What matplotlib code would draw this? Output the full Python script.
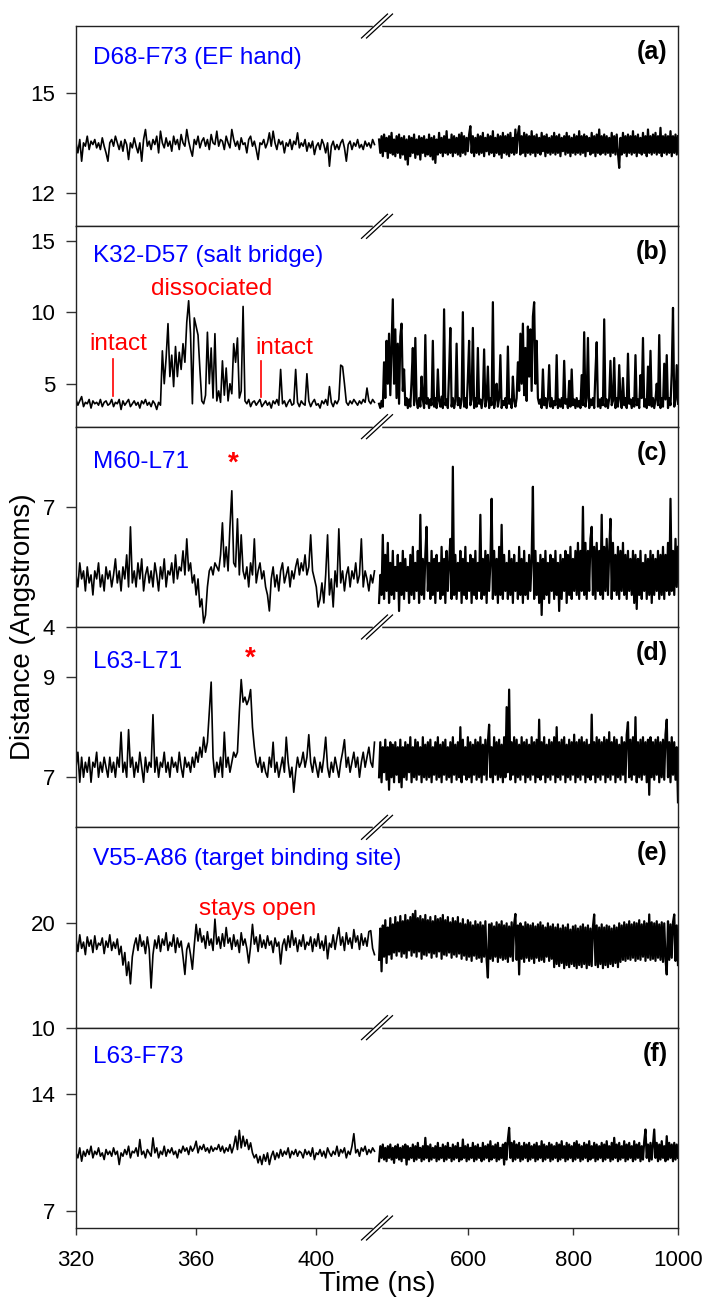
import numpy as np
import matplotlib
matplotlib.use("Agg")
import matplotlib.pyplot as plt
from matplotlib.lines import Line2D

plt.rcParams['font.family'] = ['Liberation Sans', 'DejaVu Sans']

# distances (Angstrom); left block 320-420 ns, right block 430-1000 ns
a_left = [13.5, 13.2, 13.6, 12.95, 13.5, 13.4, 13.7, 13.3, 13.55, 13.45, 13.6, 13.35, 13.5, 13.3, 13.65, 13.4, 13.2, 12.95, 13.5, 13.6,
          13.4, 13.7, 13.5, 13.3, 13.55, 13.25, 13.6, 13.45, 13.0, 13.5, 13.35, 13.65, 13.4, 13.2, 13.5, 12.95, 13.6, 13.9, 13.4, 13.55,
          13.3, 13.6, 13.45, 13.7, 13.2, 13.85, 13.5, 13.35, 13.65, 13.4, 13.55, 13.25, 13.7, 13.45, 13.6, 13.3, 13.75, 13.5, 13.4, 13.9,
          13.55, 13.3, 13.1, 13.6, 13.45, 13.7, 13.35, 13.55, 13.65, 13.4, 13.6, 13.3, 13.75, 13.5, 13.45, 13.85, 13.4, 13.6, 13.55, 13.3,
          13.7, 13.5, 13.35, 13.9, 13.6, 13.4, 13.55, 13.3, 13.65, 13.45, 13.5, 13.2, 13.6, 13.7, 13.4, 13.55, 13.3, 13.0, 13.5, 13.45,
          13.6, 13.35, 13.5, 13.8, 13.4, 13.85, 13.5, 13.3, 13.6, 13.45, 13.55, 13.2, 13.5, 13.4, 13.6, 13.3, 13.55, 13.45, 13.8, 13.35,
          13.5, 13.4, 13.6, 13.25, 13.5, 13.35, 13.55, 13.15, 13.4, 13.5, 13.3, 13.6, 13.45, 13.2, 13.5, 12.8, 13.4, 13.55, 13.3, 13.45,
          13.3, 13.5, 13.6, 13.35, 12.95, 13.45, 13.55, 13.3, 13.5, 13.4, 13.6, 13.35, 13.45, 13.3, 13.55, 13.4, 13.5, 13.35, 13.6, 13.45]
a_right = [13.6, 13.2, 13.7, 13.1, 13.75, 13.25, 13.65, 13.05, 13.7, 13.2, 13.8, 13.15, 13.6, 13.1, 13.7, 13.2, 13.75, 13.05, 13.65, 13.15,
           13.7, 13.0, 13.6, 12.85, 13.7, 13.1, 13.65, 13.2, 13.75, 13.05, 13.6, 13.15, 13.7, 13.0, 13.65, 13.2, 13.7, 13.1, 13.6, 13.15,
           13.75, 13.1, 13.65, 13.0, 13.7, 12.9, 13.6, 13.15, 13.8, 13.2, 13.65, 13.1, 13.7, 13.2, 13.85, 13.15, 13.6, 13.2, 13.75, 13.1,
           13.7, 13.2, 13.65, 13.15, 13.75, 13.1, 13.8, 13.2, 13.7, 13.15, 13.65, 13.25, 13.75, 14.0, 13.2, 13.7, 13.1, 13.65, 13.2, 13.75,
           13.15, 13.7, 13.2, 13.8, 13.1, 13.65, 13.25, 13.75, 13.15, 13.7, 13.2, 13.85, 13.1, 13.65, 13.2, 13.75, 13.15, 13.7, 13.05, 13.8,
           13.2, 13.7, 13.15, 13.75, 13.1, 13.8, 13.2, 13.65, 13.15, 13.9, 13.2, 13.75, 14.0, 13.15, 13.7, 13.2, 13.8, 13.1, 13.75, 13.2,
           13.7, 13.15, 13.85, 13.2, 13.7, 13.1, 13.75, 13.2, 13.65, 13.15, 13.8, 13.25, 13.7, 13.1, 13.75, 13.2, 13.65, 13.15, 13.7, 13.2,
           13.8, 13.15, 13.7, 13.2, 13.75, 13.1, 13.65, 13.25, 13.7, 13.15, 13.8, 13.2, 13.7, 13.1, 13.65, 13.2, 13.75, 13.15, 13.7, 13.2,
           13.85, 13.15, 13.7, 13.2, 13.75, 13.1, 13.7, 13.25, 13.65, 13.15, 13.8, 13.2, 13.7, 13.1, 13.75, 13.2, 13.9, 13.15, 13.7, 13.2,
           13.75, 13.15, 13.7, 13.2, 13.65, 13.1, 13.8, 13.2, 13.7, 13.15, 13.75, 13.2, 12.75, 13.65, 13.15, 13.8, 13.2, 13.7, 13.1, 13.75,
           13.2, 13.7, 13.15, 13.85, 13.2, 13.7, 13.1, 13.75, 13.2, 13.65, 13.15, 13.8, 13.2, 13.7, 13.1, 13.9, 13.2, 13.7, 13.15, 13.75,
           13.2, 13.8, 13.15, 13.7, 13.2, 13.95, 13.1, 13.7, 13.2, 13.75, 13.15, 13.7, 13.2, 13.85, 13.1, 13.7, 13.2, 13.75, 13.15, 13.7]

b_left = [3.9, 3.5, 3.8, 4.1, 3.4, 3.7, 3.6, 3.9, 3.3, 3.8, 3.6, 3.7, 3.5, 3.9, 3.4, 3.7, 3.8, 3.5, 3.6, 3.9,
          3.4, 3.7, 3.6, 3.9, 3.2, 3.8, 3.5, 3.7, 3.9, 3.4, 3.6, 3.8, 3.5, 3.7, 3.3, 3.8, 3.6, 3.9, 3.5, 3.7,
          3.4, 3.8, 3.6, 3.2, 3.7, 3.5,
          7.3, 5.0, 6.8, 9.2, 5.5, 7.0, 4.8, 7.6, 5.5, 7.2, 6.0, 7.8, 6.5, 9.3, 10.8, 8.5, 3.6, 9.6, 9.0, 8.4,
          6.0, 3.8, 3.6, 4.2, 8.6, 5.0, 7.5, 4.0, 8.5, 3.8, 4.5, 3.7, 6.6, 4.2, 6.1, 3.8, 5.0, 4.3, 7.8, 6.5,
          8.2, 4.0, 4.5, 10.4, 3.8,
          3.6, 3.9, 3.4, 3.7, 3.8, 3.5, 3.7, 3.9, 3.4, 3.6, 3.8, 3.5, 3.7, 3.3, 3.8, 3.6, 3.9, 3.5, 6.0, 3.6,
          3.8, 3.4, 3.7, 3.9, 3.5, 3.6, 6.0, 3.7, 3.4, 3.8, 3.6, 3.5, 5.7, 3.8, 3.4, 3.7, 3.9, 3.5, 3.6, 3.3,
          3.8, 3.6, 3.9, 3.5, 4.8, 3.7, 3.4, 3.8, 3.6, 3.9, 6.3, 6.2, 5.0, 3.7, 3.5, 3.8, 3.6, 3.9, 3.7, 3.5,
          3.8, 3.6, 3.9, 3.7, 4.7, 3.8, 3.6, 3.9, 3.7]
b_right = [3.6, 3.3, 3.8, 3.4, 6.5, 4.0, 8.0, 5.0, 8.5, 4.2, 7.5, 10.9, 5.0, 8.8, 4.0, 7.8, 3.6, 8.3, 9.2, 4.5,
           6.0, 3.5, 4.0, 3.3, 3.9, 3.4, 5.2, 7.5, 3.5, 8.2, 3.8, 3.3, 4.0, 3.4, 5.5, 3.9, 3.3, 8.4, 3.6, 4.0,
           3.3, 3.9, 3.5, 8.0, 3.4, 4.0, 3.3, 6.0, 3.8, 3.4, 4.1, 3.3, 10.2, 3.5, 3.9, 3.3, 5.8, 8.9, 3.4, 4.0,
           3.3, 3.8, 7.8, 3.5, 4.0, 3.3, 3.9, 10.0, 3.4, 4.0, 3.3, 5.4, 8.0, 3.5, 3.9, 8.9, 3.3, 4.0, 3.4, 7.5,
           3.6, 3.9, 3.3, 4.0, 7.4, 3.4, 3.9, 6.2, 3.3, 4.0, 3.5, 10.7, 3.3, 3.9, 5.0, 3.4, 4.0, 7.0, 3.3, 3.8,
           3.5, 4.0, 3.3, 7.6, 3.6, 3.9, 3.3, 5.5, 3.8, 3.4, 4.0, 6.5, 4.5, 8.5, 5.0, 9.2, 4.2, 7.5, 3.8, 9.0,
           5.5, 8.8, 4.5, 9.7, 10.7, 5.0, 8.0, 4.0, 3.6, 3.9, 3.3, 6.0, 3.5, 4.0, 3.3, 3.9, 6.3, 3.4, 4.0, 3.3,
           3.8, 3.5, 7.0, 3.3, 3.9, 3.4, 4.0, 3.3, 6.6, 3.6, 3.9, 3.3, 5.2, 3.4, 6.0, 3.5, 3.9, 3.3, 4.0, 3.4,
           3.8, 3.3, 5.6, 3.5, 8.6, 3.4, 4.0, 8.2, 3.3, 3.9, 3.5, 4.0, 3.3, 5.8, 7.9, 3.4, 3.9, 3.3, 4.0, 3.5,
           9.5, 3.4, 3.9, 3.3, 4.0, 6.6, 3.5, 3.8, 6.8, 3.3, 4.0, 3.4, 6.3, 3.9, 3.3, 5.4, 3.5, 4.0, 3.3, 7.1,
           3.6, 3.9, 3.3, 4.0, 3.4, 7.0, 3.5, 3.9, 3.3, 5.6, 4.0, 8.2, 3.4, 3.9, 3.3, 6.2, 3.5, 7.3, 3.4, 4.0,
           3.3, 3.9, 5.0, 3.5, 8.4, 3.3, 4.0, 3.4, 6.4, 3.9, 7.0, 3.3, 4.0, 3.5, 5.8, 10.3, 3.4, 3.9, 6.3, 3.6]

c_left = [5.3, 5.0, 5.6, 5.2, 5.4, 4.9, 5.5, 5.1, 5.3, 4.8, 5.4, 5.2, 5.6, 5.0, 5.3, 4.9, 5.5, 5.2, 5.4, 5.0,
          5.3, 5.7, 5.1, 5.4, 4.9, 5.5, 5.2, 5.8, 5.0, 6.5, 5.1, 5.4, 5.0, 5.6, 5.2, 5.7, 4.9, 5.3, 5.5, 5.1,
          5.4, 5.0, 5.6, 5.3, 4.9, 5.5, 5.2, 5.7, 5.0, 5.4, 5.3, 5.6, 5.1, 5.8, 5.2, 5.5, 5.4, 5.9, 5.3, 6.2,
          5.4, 5.6, 5.1, 5.3, 4.8, 5.2, 4.5, 4.7, 4.1, 4.3, 5.0, 5.4, 5.5, 5.3, 5.6, 5.5, 5.4, 5.8, 6.6, 5.5,
          6.0, 5.4, 6.5, 7.4, 5.6, 5.5, 6.7, 5.3, 6.3, 5.4, 5.2, 5.5, 5.0, 5.6, 5.3, 6.2, 5.1, 5.4, 5.6, 5.2,
          5.4, 5.0, 4.8, 4.4, 5.2, 5.5, 5.0, 5.3, 4.9, 5.4, 5.6, 5.1, 5.3, 5.5, 5.0, 5.4, 5.2, 5.5, 5.7, 5.3,
          5.6, 5.4, 5.8, 5.3, 5.5, 6.3, 5.4, 5.2, 5.0, 4.5, 4.7, 5.1, 4.6, 5.3, 6.3, 4.8, 5.2, 4.5, 5.4, 5.0,
          6.45, 5.1, 5.4, 4.9, 5.3, 5.5, 5.0, 5.4, 5.2, 5.6, 5.1, 5.3, 6.2, 5.0, 5.4, 5.2, 4.9, 5.3, 5.1, 5.4]
c_right = [4.6, 5.3, 4.8, 6.3, 4.7, 5.8, 4.9, 6.1, 4.6, 5.6, 4.8, 5.9, 4.7, 5.5, 4.9, 5.8, 4.4, 5.6, 4.8, 5.9,
           4.7, 5.7, 4.9, 5.5, 4.6, 5.8, 4.8, 6.0, 4.7, 5.6, 4.9, 5.9, 4.6, 6.8, 4.8, 5.7, 4.7, 5.8, 6.5, 4.9,
           5.6, 4.7, 5.9, 4.8, 5.7, 4.6, 5.8, 4.9, 5.6, 4.7, 6.0, 4.8, 5.7, 4.6, 5.9, 4.9, 5.6, 6.2, 4.7, 8.0,
           4.8, 5.8, 4.7, 5.6, 4.9, 5.9, 4.6, 5.7, 4.8, 6.0, 4.7, 5.6, 4.9, 5.8, 4.6, 5.7, 4.8, 5.9, 4.7, 5.6,
           4.9, 6.8, 4.7, 5.7, 4.8, 5.9, 4.6, 5.8, 4.9, 5.6, 7.2, 4.7, 5.9, 4.8, 5.7, 4.6, 6.0, 4.8, 6.55, 4.7,
           5.8, 4.9, 5.6, 4.7, 5.9, 4.8, 5.7, 4.6, 5.8, 4.9, 5.6, 4.7, 6.0, 4.8, 5.7, 4.6, 5.9, 4.8, 5.6, 4.7,
           5.8, 4.9, 5.7, 7.5, 4.7, 5.9, 4.8, 5.6, 4.6, 5.8, 4.3, 5.7, 4.7, 5.9, 4.8, 5.6, 4.6, 5.8, 4.9, 5.7,
           4.7, 5.9, 4.8, 5.6, 4.4, 5.8, 4.7, 5.7, 4.9, 5.9, 4.6, 5.8, 4.8, 6.0, 4.7, 5.7, 4.9, 5.9, 4.8, 6.1,
           4.7, 5.9, 4.9, 7.0, 4.8, 6.1, 4.7, 5.9, 4.9, 6.2, 6.5, 4.8, 6.0, 4.7, 6.1, 4.9, 5.9, 4.8, 6.8, 4.7,
           6.0, 4.9, 6.2, 4.8, 5.9, 6.7, 4.7, 6.1, 4.9, 5.8, 4.8, 6.0, 4.7, 5.9, 4.9, 6.1, 4.8, 5.8, 4.7, 5.9,
           4.9, 5.7, 4.8, 5.9, 4.6, 5.8, 4.45, 5.7, 4.8, 5.9, 4.7, 5.6, 4.9, 5.8, 4.7, 5.7, 4.8, 5.9, 4.6, 5.8,
           4.8, 5.7, 4.9, 5.9, 4.7, 5.8, 4.8, 6.0, 4.7, 5.8, 4.9, 6.1, 4.8, 7.2, 4.9, 5.9, 4.8, 6.2, 5.0, 6.0]

d_left = [7.2, 7.5, 6.9, 7.4, 7.0, 7.3, 7.1, 7.4, 6.9, 7.3, 7.2, 7.5, 7.0, 7.3, 7.1, 7.4, 7.2, 7.0, 7.4, 7.1,
          7.3, 7.0, 7.4, 7.2, 7.9, 7.1, 7.3, 7.0, 7.95, 7.2, 7.4, 7.0, 7.3, 7.1, 7.5, 7.2, 6.9, 7.4, 7.1, 7.3,
          7.2, 8.25, 7.1, 7.4, 7.0, 7.3, 7.2, 7.5, 7.1, 7.3, 7.0, 7.4, 7.2, 7.3, 7.1, 7.5, 7.2, 7.0, 7.4, 7.2,
          7.3, 7.1, 7.4, 7.2, 7.5, 7.3, 7.6, 7.4, 7.8, 7.5, 7.7, 8.3, 8.9, 7.4, 7.0, 7.3, 7.1, 7.4, 7.0, 7.9,
          7.2, 7.4, 7.1, 7.3, 7.5, 7.4, 7.5, 8.3, 8.95, 8.5, 8.6, 8.45, 8.55, 8.75, 8.0, 7.6, 7.3, 7.2, 7.4, 7.1,
          7.3, 7.1, 7.0, 7.4, 7.2, 7.7, 7.1, 7.3, 7.0, 7.2, 7.4, 7.1, 7.8, 7.3, 7.0, 7.2, 6.7, 7.1, 7.4, 7.2,
          7.3, 7.5, 7.2, 7.4, 7.85, 7.3, 7.1, 7.4, 7.2, 7.0, 7.3, 7.1, 7.4, 7.8, 7.2, 7.0, 7.3, 7.1, 7.4, 7.2,
          7.0, 7.3, 7.5, 7.75, 7.2, 7.4, 7.1, 7.3, 7.5, 7.2, 7.4, 7.0, 7.3, 7.5, 7.2, 7.4, 7.6, 7.3, 7.2, 7.7]
d_right = [7.0, 7.7, 6.9, 7.6, 7.1, 7.75, 6.95, 7.6, 6.75, 7.7, 7.0, 7.65, 6.9, 7.7, 7.05, 7.6, 6.9, 7.75, 6.8, 7.6,
           7.0, 7.7, 6.95, 7.65, 7.1, 7.8, 6.9, 7.6, 7.0, 7.75, 6.95, 7.7, 7.05, 7.6, 6.9, 7.8, 7.0, 7.65, 6.95, 7.7,
           7.0, 7.75, 6.9, 7.6, 7.05, 7.7, 6.95, 7.8, 7.0, 7.65, 6.9, 7.7, 7.05, 7.75, 6.95, 7.6, 7.0, 7.7, 6.9, 7.8,
           7.05, 7.65, 6.95, 7.7, 7.0, 8.0, 6.9, 7.75, 7.05, 7.6, 6.95, 7.8, 7.0, 7.7, 6.9, 7.65, 7.05, 7.75, 6.95, 7.7,
           7.0, 7.8, 6.9, 7.65, 7.05, 7.75, 6.95, 7.7, 8.05, 7.0, 7.6, 6.9, 7.8, 7.05, 7.7, 6.95, 7.75, 7.0, 7.65, 6.9,
           7.8, 7.0, 8.4, 7.1, 8.75, 6.95, 7.7, 7.05, 7.8, 6.9, 7.75, 7.0, 7.65, 6.95, 7.8, 7.05, 7.7, 6.9, 7.75, 7.0,
           7.65, 6.95, 7.8, 7.05, 7.7, 6.9, 7.75, 7.0, 8.15, 6.95, 7.7, 7.05, 7.8, 6.9, 7.65, 7.0, 7.75, 6.95, 7.7, 7.05,
           7.8, 6.9, 8.0, 7.0, 7.7, 6.95, 7.75, 7.05, 7.8, 6.9, 7.65, 7.0, 7.75, 6.95, 7.7, 7.05, 7.85, 6.9, 7.7, 7.0,
           7.75, 6.95, 7.8, 7.05, 7.7, 6.9, 7.75, 7.0, 7.65, 6.95, 8.25, 7.05, 7.7, 6.9, 7.8, 7.0, 7.75, 6.95, 7.7, 7.05,
           7.8, 6.9, 7.75, 7.0, 7.9, 6.95, 7.7, 7.05, 7.8, 6.9, 7.75, 7.0, 7.65, 6.95, 7.8, 7.05, 7.7, 6.9, 7.85, 8.1,
           7.0, 7.75, 6.95, 7.8, 7.05, 8.2, 6.9, 7.7, 7.0, 7.75, 6.95, 7.8, 7.05, 7.7, 6.9, 7.75, 6.65, 7.8, 7.0, 7.7,
           6.95, 7.75, 7.05, 7.8, 6.9, 7.7, 7.0, 7.75, 6.95, 7.85, 8.15, 7.0, 7.7, 6.9, 7.8, 7.05, 7.7, 6.95, 7.6, 6.5]

e_left = [18.5, 17.3, 18.9, 17.6, 18.2, 17.0, 18.7, 17.8, 18.4, 17.2, 18.8, 17.5, 18.1, 17.9, 18.6, 17.1, 18.3, 17.7, 18.9, 17.4,
          18.2, 17.6, 18.5, 17.0, 17.8, 16.0, 17.2, 15.0, 16.3, 14.2, 16.8, 17.9, 18.6, 17.4, 18.9, 17.8, 18.3, 17.1, 18.7, 17.5,
          13.8, 17.0, 18.4, 17.6, 18.8, 17.3, 18.5, 17.9, 19.1, 17.4, 18.2, 17.8, 18.9, 17.2, 18.6, 17.7, 18.3, 16.8, 15.1, 17.5,
          18.1, 17.0, 15.6, 17.9, 19.9, 18.3, 19.5, 18.2, 18.8, 17.6, 19.2, 17.9, 18.5, 17.4, 20.4, 18.0, 18.7, 17.6, 19.0, 17.8,
          19.6, 18.1, 18.6, 17.5, 18.9, 17.8, 18.4, 17.2, 19.1, 17.9, 18.5, 17.6, 16.2, 17.8, 19.9, 18.0, 18.7, 17.3, 18.9, 17.7,
          18.4, 17.6, 18.8, 17.9, 18.3, 17.2, 18.6, 17.8, 18.2, 16.1, 17.9, 18.5, 17.4, 18.8, 17.7, 19.3, 17.9, 18.6, 17.3, 18.4,
          17.8, 18.9, 17.5, 18.2, 17.9, 18.7, 17.3, 18.5, 17.8, 19.0, 17.6, 18.3, 17.4, 18.8, 16.6, 18.1, 17.7, 18.9, 17.5, 18.6,
          19.6, 17.9, 18.7, 17.4, 19.1, 18.0, 18.6, 17.6, 19.4, 18.2, 18.8, 17.5, 19.0, 17.9, 18.6, 17.8, 19.2, 19.3, 17.6, 17.0]
e_right = [16.5, 19.5, 15.4, 19.8, 16.8, 20.3, 16.2, 19.6, 17.0, 20.5, 16.6, 19.9, 17.2, 20.6, 16.9, 20.1, 17.3, 20.7, 16.8, 20.2,
           17.1, 20.8, 16.7, 20.3, 17.4, 20.6, 16.9, 20.9, 17.2, 21.2, 16.8, 20.5, 17.3, 20.7, 16.6, 20.4, 17.0, 20.8, 16.9, 20.3,
           17.2, 20.6, 16.7, 20.2, 17.1, 20.7, 16.8, 20.4, 17.3, 20.5, 16.6, 20.8, 17.0, 20.3, 16.9, 20.6, 17.2, 20.1, 16.7, 20.5,
           17.0, 20.2, 16.8, 20.6, 17.1, 20.0, 16.6, 20.4, 16.9, 19.9, 16.5, 20.3, 16.8, 20.1, 16.4, 19.8, 16.9, 20.2, 16.6, 19.9,
           16.7, 20.1, 16.3, 19.8, 16.8, 20.2, 16.5, 14.8, 19.9, 16.6, 20.0, 16.4, 19.7, 16.8, 20.1, 16.3, 19.9, 16.7, 20.2, 16.5,
           19.8, 16.6, 20.0, 16.3, 19.7, 16.8, 20.1, 16.4, 19.9, 20.9, 16.5, 19.8, 15.1, 20.0, 16.6, 19.7, 16.3, 20.1, 16.7, 19.9,
           16.4, 19.8, 16.6, 20.0, 16.2, 19.7, 16.7, 19.9, 16.4, 20.1, 16.5, 19.8, 16.3, 19.6, 16.8, 20.0, 16.4, 19.7, 16.6, 19.9,
           15.8, 19.6, 16.1, 19.9, 15.9, 19.5, 16.2, 19.8, 15.7, 19.6, 16.0, 19.9, 15.8, 19.4, 16.1, 19.7, 15.9, 19.8, 15.7, 19.5,
           16.0, 19.7, 15.8, 19.9, 16.1, 19.6, 15.7, 19.8, 16.0, 19.5, 15.9, 19.7, 20.85, 16.0, 19.8, 15.8, 19.6, 16.1, 19.9, 15.7,
           19.6, 16.0, 19.8, 15.8, 19.7, 16.1, 19.5, 15.9, 19.8, 16.2, 19.6, 15.8, 20.0, 16.3, 19.8, 16.5, 20.1, 16.4, 19.9, 16.6,
           20.2, 16.5, 19.9, 16.7, 20.1, 16.4, 20.0, 16.6, 20.3, 16.5, 19.9, 16.8, 20.2, 16.4, 20.0, 16.7, 20.85, 16.5, 20.1, 16.6,
           20.0, 16.4, 20.2, 16.7, 19.9, 16.5, 20.1, 16.3, 20.0, 16.6, 15.1, 20.2, 16.5, 19.9, 16.7, 20.1, 20.85, 16.4, 19.8, 16.0]

f_left = [10.5, 10.2, 10.8, 10.0, 10.6, 10.3, 10.7, 10.4, 10.9, 10.2, 10.6, 10.4, 10.8, 10.3, 10.5, 10.1, 10.7, 10.4, 10.6, 10.3,
          10.8, 10.4, 10.6, 9.8, 10.5, 10.3, 10.7, 10.4, 10.9, 10.2, 10.6, 10.5, 10.8, 10.3, 11.3, 10.4, 10.6, 10.2, 10.7, 10.5,
          10.3, 11.4, 10.5, 10.8, 10.2, 10.6, 10.4, 10.9, 10.3, 10.7, 10.5, 10.8, 10.4, 10.6, 10.2, 10.7, 10.5, 10.9, 10.6, 10.8,
          10.4, 10.9, 10.6, 10.8, 11.2, 10.5, 10.9, 10.7, 11.0, 10.6, 10.8, 10.5, 10.9, 10.6, 10.8, 10.7, 11.0, 10.6, 10.9, 10.5,
          10.8, 10.6, 11.0, 10.5, 10.9, 11.5, 10.7, 11.85, 10.8, 11.5, 10.9, 11.3, 10.7, 11.1, 10.5, 10.2, 10.4, 9.9, 10.3, 9.8,
          10.4, 10.0, 10.5, 9.8, 10.3, 10.6, 10.1, 10.5, 10.2, 10.7, 10.3, 10.6, 10.4, 10.8, 10.2, 10.6, 10.4, 10.7, 10.3, 10.6,
          10.5, 10.2, 10.7, 10.4, 10.6, 10.3, 10.8, 10.1, 10.5, 10.4, 10.7, 10.3, 10.6, 10.2, 10.8, 10.5, 10.3, 10.6, 10.4, 10.9,
          10.3, 10.7, 10.5, 10.8, 10.2, 10.6, 10.4, 10.9, 11.65, 10.5, 10.7, 10.3, 10.8, 10.6, 10.9, 10.4, 10.7, 10.5, 10.8, 10.6]
f_right = [10.0, 10.9, 10.2, 11.0, 10.1, 10.8, 10.0, 10.9, 10.2, 11.0, 10.1, 10.8, 9.9, 10.9, 10.2, 11.0, 10.1, 10.8, 10.0, 10.9,
           10.2, 11.0, 9.8, 10.9, 10.1, 10.8, 10.2, 11.0, 10.0, 10.9, 10.1, 11.1, 10.2, 10.8, 10.0, 10.9, 10.1, 11.4, 10.2, 10.9,
           10.0, 11.0, 10.1, 10.8, 10.2, 10.9, 10.0, 11.1, 10.1, 10.8, 10.2, 11.0, 10.0, 10.9, 10.1, 11.1, 10.2, 10.8, 10.0, 11.0,
           10.1, 10.9, 10.2, 11.1, 10.0, 10.8, 10.1, 11.3, 10.2, 10.9, 10.0, 11.0, 10.1, 10.8, 10.2, 11.1, 10.0, 10.9, 10.1, 11.0,
           10.2, 10.8, 10.0, 11.1, 10.1, 10.9, 10.2, 11.0, 10.0, 11.2, 10.1, 10.9, 10.2, 11.0, 10.0, 11.1, 10.1, 10.8, 10.2, 11.0,
           9.8, 11.1, 10.1, 11.3, 12.0, 10.2, 11.1, 10.0, 11.2, 10.1, 11.0, 10.2, 11.1, 10.0, 10.9, 10.1, 11.1, 10.2, 11.0, 10.0,
           11.1, 10.1, 10.9, 10.2, 11.0, 10.0, 11.1, 10.1, 10.9, 10.2, 11.2, 10.0, 11.0, 10.1, 10.9, 10.2, 11.1, 10.0, 11.0, 10.1,
           10.9, 10.2, 11.1, 10.0, 11.0, 10.1, 11.2, 10.2, 10.9, 10.0, 11.1, 10.1, 11.0, 10.2, 10.9, 10.0, 11.1, 10.1, 11.2, 10.2,
           11.0, 10.0, 10.9, 10.1, 11.1, 10.2, 11.0, 10.0, 11.2, 10.1, 10.9, 10.2, 11.1, 10.0, 11.0, 10.1, 10.9, 10.2, 11.1, 10.0,
           11.0, 10.1, 11.2, 10.2, 10.9, 10.0, 11.1, 10.1, 11.4, 10.2, 11.0, 10.0, 11.1, 10.1, 10.9, 10.2, 11.2, 10.0, 11.0, 10.1,
           11.1, 10.2, 10.9, 10.0, 11.2, 10.1, 11.0, 10.2, 11.1, 10.0, 10.9, 10.1, 11.2, 11.9, 10.2, 11.0, 10.0, 11.1, 10.1, 11.0,
           11.9, 10.2, 11.1, 10.0, 11.0, 10.1, 11.2, 10.2, 10.9, 10.0, 11.5, 10.1, 11.1, 10.2, 11.0, 10.0, 11.1, 10.1, 11.0, 10.2]

TRACES = [(a_left, a_right), (b_left, b_right), (c_left, c_right),
          (d_left, d_right), (e_left, e_right), (f_left, f_right)]
TITLES = ["D68-F73 (EF hand)", "K32-D57 (salt bridge)", "M60-L71",
          "L63-L71", "V55-A86 (target binding site)", "L63-F73"]
LETTERS = ["(a)", "(b)", "(c)", "(d)", "(e)", "(f)"]
YLIMS = [(11, 17), (2, 16), (4, 9), (6, 10), (10, 29.2), (6, 18)]
YTICKS = [[12, 15], [5, 10, 15], [4, 7], [7, 9], [10, 20], [7, 14]]
TITLE_Y = [0.84, 0.85, 0.825, 0.825, 0.84, 0.853]
XTICKS = [320, 360, 400, 600, 800, 1000]


# broken time axis: 320-420 ns stretched, 428-1000 ns compressed
def fwd(x):
    x = np.asarray(x, dtype=float)
    return np.where(x <= 420, (x - 320) * 3.0,
                    np.where(x >= 428, 302 + (x - 428) * (300 / 572), 300 + (x - 420) * 0.25))


def inv(p):
    p = np.asarray(p, dtype=float)
    return np.where(p <= 300, 320 + p / 3.0,
                    np.where(p >= 302, 428 + (p - 302) * (572 / 300), 420 + (p - 300) * 4.0))


def draw_break(fig, cx, cy):
    W, H = fig.get_size_inches() * fig.dpi

    def pt(px, py):
        return px / W, 1 - py / H
    (x0, y0), (x1, y1) = pt(cx - 3, cy), pt(cx + 3, cy)
    fig.add_artist(Line2D([x0, x1], [y0, y1], color='white', lw=2.5, transform=fig.transFigure))
    for off in (-2.5, 2.5):
        (x0, y0), (x1, y1) = pt(cx + off - 13, cy + 12), pt(cx + off + 13, cy - 12)
        fig.add_artist(Line2D([x0, x1], [y0, y1], color='black', lw=0.9, transform=fig.transFigure))


fig = plt.figure(figsize=(7.02, 13.01), dpi=100)
W, H = 702, 1301
left_px, right_px, top_px, bot_px = 76, 678, 26, 1228
ph = (bot_px - top_px) / 6.0

axs = []
for i in range(6):
    y_top = top_px + i * ph
    ax = fig.add_axes([left_px / W, 1 - (y_top + ph) / H, (right_px - left_px) / W, ph / H])
    ax.set_xscale('function', functions=(fwd, inv))
    ax.set_xlim(320, 1000)
    ax.set_ylim(*YLIMS[i])
    lv, rv = TRACES[i]
    ax.plot(np.linspace(320, 419.5, len(lv)), lv, color='black', lw=1.2)
    ax.plot(np.linspace(430, 1000, len(rv)), rv, color='black', lw=1.6)
    ax.set_yticks(YTICKS[i])
    ax.tick_params(axis='y', direction='out', length=7, width=1, labelsize=16, pad=8,
                   color='#333333', labelcolor='black')
    for s in ax.spines.values():
        s.set_color('#222222')
        s.set_linewidth(1.0)
    ax.text(0.029, TITLE_Y[i], TITLES[i], transform=ax.transAxes, color='blue',
            fontsize=17.5, ha='left', va='center')
    ax.text(0.983, 0.87, LETTERS[i], transform=ax.transAxes, fontsize=18,
            fontweight='bold', ha='right', va='center')
    if i < 5:
        ax.tick_params(axis='x', bottom=False, labelbottom=False)
    else:
        ax.set_xticks(XTICKS)
        ax.set_xticklabels([str(v) for v in XTICKS])
        ax.tick_params(axis='x', direction='out', length=5, width=1, labelsize=16, pad=11,
                       color='#333333', labelcolor='black')
    ax.minorticks_off()
    axs.append(ax)

# annotations
axb = axs[1]
axb.text(334, 7.8, "intact", color='red', fontsize=17.5, ha='center', va='center')
axb.plot([332.4, 332.4], [4.16, 6.75], color='red', lw=1.2)
axb.text(365.2, 11.6, "dissociated", color='red', fontsize=17.5, ha='center', va='center')
axb.text(389.3, 7.5, "intact", color='red', fontsize=17.5, ha='center', va='center')
axb.plot([381.7, 381.7], [4.04, 6.6], color='red', lw=1.2)
axs[2].text(372.3, 8.07, "*", color='red', fontsize=20, fontweight='bold', ha='center', va='center')
axs[3].text(378.2, 9.37, "*", color='red', fontsize=20, fontweight='bold', ha='center', va='center')
axs[4].text(380.4, 21.35, "stays open", color='red', fontsize=17.5, ha='center', va='center')

for i in range(7):
    draw_break(fig, 377, top_px + i * ph)

fig.text(23 / W, 1 - 627 / H, "Distance (Angstroms)", rotation=90, fontsize=20, ha='center', va='center')
fig.text(377 / W, 1 - 1284 / H, "Time (ns)", fontsize=20, ha='center', va='center')

plt.savefig("out.png", dpi=100)
